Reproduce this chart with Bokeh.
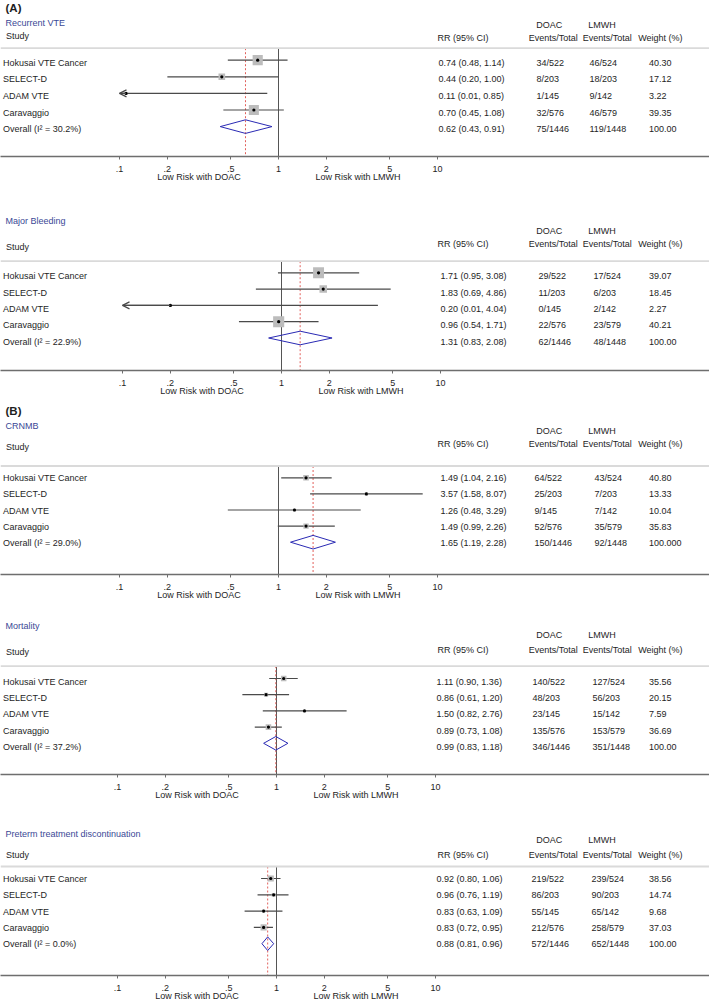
import math
from bokeh.plotting import figure
from bokeh.layouts import column
from bokeh.models import (Range1d, FixedTicker, Span, LogAxis, Arrow, OpenHead,
                          ColumnDataSource)
from bokeh.core.properties import value
from bokeh.embed import file_html
from bokeh.resources import INLINE

# ---------------- data ----------------
studies = ["Hokusai VTE Cancer", "SELECT-D", "ADAM VTE", "Caravaggio"]

ticks = [0.1, 0.2, 0.5, 1, 2, 5, 10]
tick_labels = [".1", ".2", ".5", "1", "2", "5", "10"]
side_labels = ["Low Risk with DOAC", "Low Risk with LMWH"]

titles = ["Recurrent VTE", "Major Bleeding", "CRNMB", "Mortality",
          "Preterm treatment discontinuation"]
letters = ["(A)", None, "(B)", None, None]

# Recurrent VTE
vte_rr = [0.74, 0.44, 0.11, 0.70]
vte_lo = [0.48, 0.20, 0.01, 0.45]
vte_hi = [1.14, 1.00, 0.85, 1.08]
vte_doac = ["34/522", "8/203", "1/145", "32/576"]
vte_lmwh = ["46/524", "18/203", "9/142", "46/579"]
vte_wt = ["40.30", "17.12", "3.22", "39.35"]
vte_overall = [0.62, 0.43, 0.91]
vte_overall_ev = ["75/1446", "119/1448", "100.00"]
vte_i2 = "30.2"

# Major bleeding
mb_rr = [1.71, 1.83, 0.20, 0.96]
mb_lo = [0.95, 0.69, 0.01, 0.54]
mb_hi = [3.08, 4.86, 4.04, 1.71]
mb_doac = ["29/522", "11/203", "0/145", "22/576"]
mb_lmwh = ["17/524", "6/203", "2/142", "23/579"]
mb_wt = ["39.07", "18.45", "2.27", "40.21"]
mb_overall = [1.31, 0.83, 2.08]
mb_overall_ev = ["62/1446", "48/1448", "100.00"]
mb_i2 = "22.9"

# CRNMB
cr_rr = [1.49, 3.57, 1.26, 1.49]
cr_lo = [1.04, 1.58, 0.48, 0.99]
cr_hi = [2.16, 8.07, 3.29, 2.26]
cr_doac = ["64/522", "25/203", "9/145", "52/576"]
cr_lmwh = ["43/524", "7/203", "7/142", "35/579"]
cr_wt = ["40.80", "13.33", "10.04", "35.83"]
cr_overall = [1.65, 1.19, 2.28]
cr_overall_ev = ["150/1446", "92/1448", "100.000"]
cr_i2 = "29.0"

# Mortality
mo_rr = [1.11, 0.86, 1.50, 0.89]
mo_lo = [0.90, 0.61, 0.82, 0.73]
mo_hi = [1.36, 1.20, 2.76, 1.08]
mo_doac = ["140/522", "48/203", "23/145", "135/576"]
mo_lmwh = ["127/524", "56/203", "15/142", "153/579"]
mo_wt = ["35.56", "20.15", "7.59", "36.69"]
mo_overall = [0.99, 0.83, 1.18]
mo_overall_ev = ["346/1446", "351/1448", "100.00"]
mo_i2 = "37.2"

# Preterm treatment discontinuation
pt_rr = [0.92, 0.96, 0.83, 0.83]
pt_lo = [0.80, 0.76, 0.63, 0.72]
pt_hi = [1.06, 1.19, 1.09, 0.95]
pt_doac = ["219/522", "86/203", "55/145", "212/576"]
pt_lmwh = ["239/524", "90/203", "65/142", "258/579"]
pt_wt = ["38.56", "14.74", "9.68", "37.03"]
pt_overall = [0.88, 0.81, 0.96]
pt_overall_ev = ["572/1446", "652/1448", "100.00"]
pt_i2 = "0.0"

panels_data = [
    (vte_rr, vte_lo, vte_hi, vte_doac, vte_lmwh, vte_wt, vte_overall, vte_overall_ev, vte_i2),
    (mb_rr, mb_lo, mb_hi, mb_doac, mb_lmwh, mb_wt, mb_overall, mb_overall_ev, mb_i2),
    (cr_rr, cr_lo, cr_hi, cr_doac, cr_lmwh, cr_wt, cr_overall, cr_overall_ev, cr_i2),
    (mo_rr, mo_lo, mo_hi, mo_doac, mo_lmwh, mo_wt, mo_overall, mo_overall_ev, mo_i2),
    (pt_rr, pt_lo, pt_hi, pt_doac, pt_lmwh, pt_wt, pt_overall, pt_overall_ev, pt_i2),
]

# ---------------- layout / style ----------------
FW = 709          # frame width in px
OFFSET = 0        # reference px at figure left edge
DEC = 159.0       # px per decade
FONT = value("Liberation Sans")
FS = "9px"
TXT = "#1e1e1e"
BLUE_T = "#3a4896"
BLUE_D = "#2a2ab4"

LAYOUT = [
    dict(top=0, axis=156, bottom=44, one=278, hline=47.7, mark0=59.7, dy=16.6, toff=2.5,
         letter_y=7, title_y=22, study_y=35, doac_y=24.3, hdr_y=37.7,
         rr_x=438, doac_x=536, lmwh_x=589, box=1.6),
    dict(top=200, axis=370, bottom=32, one=281, hline=260.7, mark0=272.3, dy=16.3, toff=3.5,
         letter_y=None, title_y=220, study_y=246, doac_y=230, hdr_y=243.7,
         rr_x=440, doac_x=538, lmwh_x=593, box=1.75),
    dict(top=402, axis=574, bottom=36, one=278, hline=465.5, mark0=477.3, dy=16.1, toff=0.5,
         letter_y=410, title_y=425.3, study_y=446.7, doac_y=430.7, hdr_y=443.7,
         rr_x=440, doac_x=534, lmwh_x=594, box=0.88),
    dict(top=610, axis=774, bottom=40, one=276, hline=665.7, mark0=678, dy=16.2, toff=3.5,
         letter_y=None, title_y=625.7, study_y=651, doac_y=634.3, hdr_y=649,
         rr_x=436, doac_x=532, lmwh_x=592, box=0.92),
    dict(top=814, axis=975, bottom=27, one=276, hline=866, mark0=878, dy=16.3, toff=0.5,
         letter_y=None, title_y=833, study_y=854.3, doac_y=839, hdr_y=854,
         rr_x=436, doac_x=531, lmwh_x=591, box=1.0),
]


def add_text(p, xs, ys, texts, color=TXT, size=FS, style="normal", align="left"):
    src = ColumnDataSource(dict(x=xs, y=ys, t=texts))
    p.text(x="x", y="y", text="t", source=src, text_font=FONT, text_font_size=size,
           text_color=color, text_font_style=style, text_align=align,
           text_baseline="middle")


def make_panel(k):
    lay = LAYOUT[k]
    rr, lo, hi, doac, lmwh, wt, ov, ov_ev, i2 = panels_data[k]
    one = lay["one"]
    top = lay["top"]
    fh = lay["axis"] - top

    def xp(r):
        return 10 ** ((r - one) / DEC)

    p = figure(frame_width=FW, frame_height=fh, x_axis_type="log",
               x_range=Range1d(xp(OFFSET), xp(OFFSET + FW)),
               y_range=Range1d(fh, 0),
               output_backend="svg", toolbar_location=None, y_axis_location=None,
               min_border_left=0, min_border_right=0, min_border_top=0,
               min_border_bottom=lay["bottom"],
               background_fill_color="white", border_fill_color="white",
               outline_line_color=None)
    p.grid.visible = False

    ax = p.xaxis[0]
    ax.ticker = FixedTicker(ticks=ticks, minor_ticks=[])
    ax.major_label_overrides = {t: l for t, l in zip(ticks, tick_labels)}
    ax.major_tick_in = 0
    ax.major_tick_out = 3
    ax.minor_tick_in = 0
    ax.minor_tick_out = 0
    ax.axis_line_color = "#6e6e6e"
    ax.axis_line_width = 1.3
    ax.major_tick_line_color = "#6e6e6e"
    ax.major_label_text_font = "Liberation Sans"
    ax.major_label_text_font_size = FS
    ax.major_label_text_color = TXT
    ax.major_label_standoff = 6

    side_pos = [math.sqrt(ticks[0] * 1), math.sqrt(1 * ticks[-1])]
    ax2 = LogAxis(ticker=FixedTicker(ticks=side_pos, minor_ticks=[]),
                  major_label_overrides={t: l for t, l in zip(side_pos, side_labels)},
                  axis_line_color=None, major_tick_line_color=None,
                  minor_tick_line_color=None, major_label_standoff=-3,
                  major_tick_in=0, major_tick_out=0,
                  major_label_text_font="Liberation Sans",
                  major_label_text_font_size=FS, major_label_text_color=TXT)
    p.add_layout(ax2, "below")

    L = lay["hline"] - top
    p.add_layout(Span(location=L, dimension="width", line_color="#dadada", line_width=1.8))

    n = len(rr)
    ys = [lay["mark0"] - top + i * lay["dy"] for i in range(n + 1)]
    row_y = ys[:n]
    ov_y = ys[n]

    # reference line at 1 and overall dashed line
    p.segment(x0=[1], y0=[L], x1=[1], y1=[fh], line_color="#555555", line_width=1)
    p.segment(x0=[ov[0]], y0=[L], x1=[ov[0]], y1=[fh], line_color="#e2615c",
              line_width=1, line_dash="2 2")

    lo_c = [max(v, ticks[0]) for v in lo]
    hi_c = [min(v, ticks[-1]) for v in hi]
    p.segment(x0=lo_c, y0=row_y, x1=hi_c, y1=row_y, line_color="#4a4a4a", line_width=1.2)

    clipped = [i for i in range(n) if lo[i] < ticks[0]]
    if clipped:
        asrc = ColumnDataSource(dict(xs=[rr[i] for i in clipped], ys=[row_y[i] for i in clipped],
                                     xe=[ticks[0]] * len(clipped), ye=[row_y[i] for i in clipped]))
        p.add_layout(Arrow(end=OpenHead(size=7, line_color="#4a4a4a", line_width=1.2),
                           x_start="xs", y_start="ys", x_end="xe", y_end="ye",
                           source=asrc, line_color="#4a4a4a", line_width=1.2))

    sizes = [lay["box"] * math.sqrt(float(w)) for w in wt]
    p.scatter(x=rr, y=row_y, size=sizes, marker="square", fill_color="#bcbcbc",
              line_color=None)
    p.scatter(x=rr, y=row_y, size=3.2, marker="circle", fill_color="black",
              line_color=None)

    dh = 6.8
    p.patch(x=[ov[1], ov[0], ov[2], ov[0], ov[1]],
            y=[ov_y, ov_y - dh, ov_y, ov_y + dh, ov_y],
            fill_color=None, line_color=BLUE_D, line_width=1)

    # texts
    toff = lay["toff"]
    ty = [y + toff for y in ys]
    names = studies + [f"Overall (I\u00b2 = {i2}%)"]
    add_text(p, [xp(2.5)] * (n + 1), ty, names)
    rr_txt = [f"{r:.2f} ({a:.2f}, {b:.2f})" for r, a, b in zip(rr, lo, hi)]
    rr_txt.append(f"{ov[0]:.2f} ({ov[1]:.2f}, {ov[2]:.2f})")
    add_text(p, [xp(lay["rr_x"])] * (n + 1), ty, rr_txt)
    add_text(p, [xp(lay["doac_x"])] * (n + 1), ty, doac + [ov_ev[0]])
    add_text(p, [xp(lay["lmwh_x"])] * (n + 1), ty, lmwh + [ov_ev[1]])
    add_text(p, [xp(648.5)] * (n + 1), ty, wt + [ov_ev[2]])

    # headers
    if letters[k]:
        add_text(p, [xp(5)], [lay["letter_y"] - top], [letters[k]], size="11.5px",
                 style="bold")
    add_text(p, [xp(5)], [lay["title_y"] - top], [titles[k]], color=BLUE_T)
    add_text(p, [xp(5.5)], [lay["study_y"] - top], ["Study"])
    add_text(p, [xp(535.7), xp(587.7)], [lay["doac_y"] - top] * 2, ["DOAC", "LMWH"])
    add_text(p, [xp(437), xp(528.3), xp(582.3), xp(637.7)], [lay["hdr_y"] - top] * 4,
             ["RR (95% CI)", "Events/Total", "Events/Total", "Weight (%)"])
    return p


figs = [make_panel(k) for k in range(5)]
layout = column(*figs)
open("out.html", "w").write(file_html(layout, INLINE))
